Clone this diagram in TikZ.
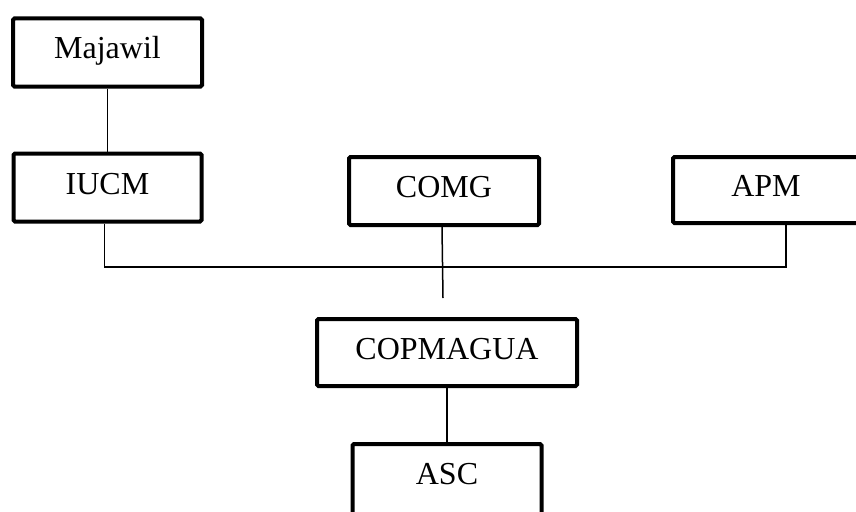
\documentclass[tikz,border=0pt]{standalone}
\usepackage{fontspec}
\setmainfont{Liberation Serif}
\usepackage{tikz}
\usetikzlibrary{positioning}

\begin{document}
\begin{tikzpicture}[
    x=1pt, y=-1pt,
    orgbox/.style={rectangle, draw=black, line width=4pt, rounded corners=1.5pt, minimum width=189pt, minimum height=68pt, align=center, text height=22pt, text depth=9pt, font=\fontsize{32}{38}\selectfont},
    link/.style={line width=1.5pt, draw=black}
]
\useasboundingbox (0,0) rectangle (856,511);
\clip (0,0) rectangle (856,511);
\node (majawil) [orgbox] at (107.5,52.5) {Majawil};
\node (iucm) [orgbox, minimum width=188pt, below=63pt of majawil] {IUCM};
\node (comg) [orgbox, minimum width=190pt] at (444,191) {COMG};
\node (apm) [orgbox, minimum width=186pt, minimum height=66pt] at (766,190) {APM};
\node (copmagua) [orgbox, minimum width=260pt, minimum height=67pt] at (447,352.5) {COPMAGUA};
\node (asc) [orgbox, minimum width=189pt, minimum height=80pt, text depth=21pt, below=54pt of copmagua] {ASC};
\coordinate (bus) at (444,267);
\coordinate (drop) at (443,298);
\draw [link] (majawil) -- (iucm);
\draw [link] ([xshift=-3pt]iucm.south) |- (bus) -| ([xshift=20pt]apm.south);
\draw [link] ([xshift=-2pt]comg.south) -- (drop);
\draw [link] (copmagua) -- (asc);
\end{tikzpicture}
\end{document}
